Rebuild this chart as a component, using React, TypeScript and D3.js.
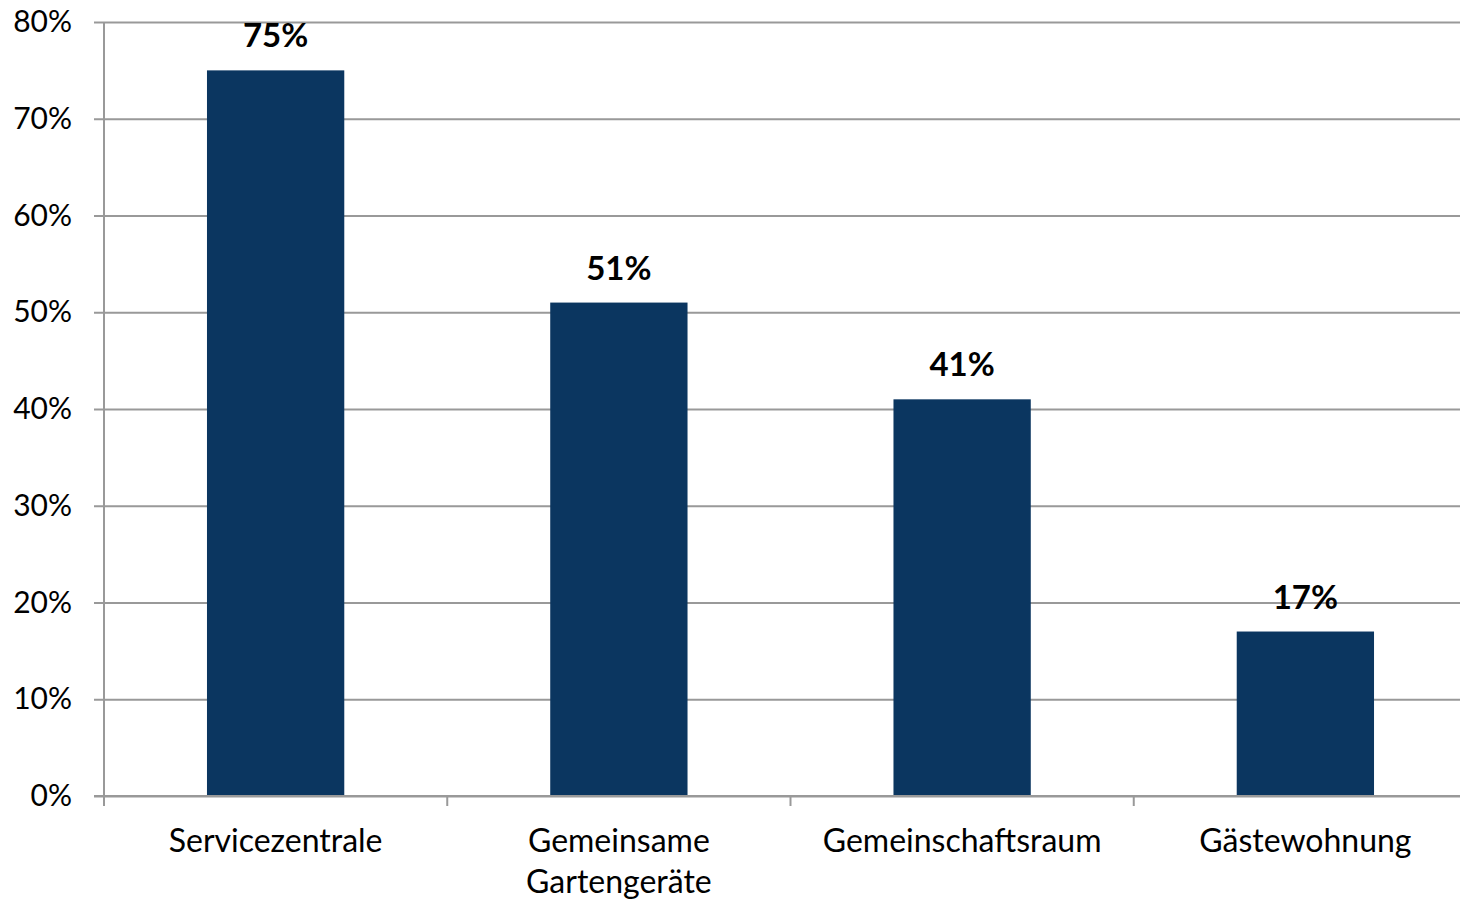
import * as d3 from 'd3';
import React, { useEffect, useRef } from 'react';

const categories = ['Servicezentrale', 'Gemeinsame Gartengeräte', 'Gemeinschaftsraum', 'Gästewohnung'];
const categoryLines = [['Servicezentrale'], ['Gemeinsame', 'Gartengeräte'], ['Gemeinschaftsraum'], ['Gästewohnung']];
const values = [0.75, 0.51, 0.41, 0.17];
const yTicks = [0, 0.1, 0.2, 0.3, 0.4, 0.5, 0.6, 0.7, 0.8];

const FONT = 'Lato, "Open Sans", sans-serif';

const App: React.FC = () => {
  const svgRef = useRef<SVGSVGElement | null>(null);

  useEffect(() => {
    const svg = d3.select(svgRef.current);
    const width = 1460;
    const height = 899;
    const left = 104;
    const top = 22;
    const bottom = 796;
    const step = 343.25;

    svg.attr('width', width).attr('height', height).style('background', '#fff');
    svg.selectAll('*').remove();

    const x = d3
      .scaleBand<string>()
      .domain(categories)
      .range([left, left + step * categories.length])
      .paddingInner(0.6)
      .paddingOuter(0.3);

    const y = d3.scaleLinear().domain([0, 0.8]).range([bottom, top]);

    // gridlines + y ticks
    const yAxis = svg
      .append('g')
      .attr('transform', `translate(${left},0)`)
      .call(
        d3
          .axisLeft(y)
          .tickValues(yTicks)
          .tickFormat((d) => d3.format('.0%')(d as number))
          .tickSize(-(width - left + 30))
          .tickPadding(32),
      );
    yAxis.select('.domain').remove();
    yAxis
      .selectAll('.tick line')
      .attr('x1', -10)
      .attr('stroke', '#999')
      .attr('stroke-width', 2);
    yAxis
      .selectAll('.tick text')
      .attr('fill', '#000')
      .attr('x', -32)
      .style('font-family', FONT)
      .style('font-size', '30px');

    // y axis line
    svg
      .append('line')
      .attr('x1', left)
      .attr('x2', left)
      .attr('y1', top)
      .attr('y2', bottom)
      .attr('stroke', '#999')
      .attr('stroke-width', 2);

    // bars
    svg
      .append('g')
      .selectAll('rect')
      .data(values)
      .join('rect')
      .attr('x', (_, i) => x(categories[i])!)
      .attr('width', x.bandwidth())
      .attr('y', (d) => y(d))
      .attr('height', (d) => bottom - y(d))
      .attr('fill', '#0B3660');

    // x axis baseline and ticks
    svg
      .append('line')
      .attr('x1', left - 10)
      .attr('x2', width)
      .attr('y1', bottom)
      .attr('y2', bottom)
      .attr('stroke', '#999')
      .attr('stroke-width', 2);

    svg
      .append('g')
      .selectAll('line')
      .data(categories)
      .join('line')
      .attr('x1', (d) => x(d)! - x.step() * 0.3)
      .attr('x2', (d) => x(d)! - x.step() * 0.3)
      .attr('y1', bottom)
      .attr('y2', bottom + 10)
      .attr('stroke', '#999')
      .attr('stroke-width', 2);

    // value labels
    svg
      .append('g')
      .selectAll('text')
      .data(values)
      .join('text')
      .attr('x', (_, i) => x(categories[i])! + x.bandwidth() / 2)
      .attr('y', (d) => y(d) - 23)
      .attr('text-anchor', 'middle')
      .style('font-family', FONT)
      .style('font-size', '33px')
      .style('font-weight', 'bold')
      .text((d) => d3.format('.0%')(d));

    // category labels
    const cat = svg
      .append('g')
      .selectAll('text')
      .data(categories)
      .join('text')
      .attr('x', (d) => x(d)! + x.bandwidth() / 2)
      .attr('y', 852)
      .attr('text-anchor', 'middle')
      .style('font-family', FONT)
      .style('font-size', '32px');
    cat
      .selectAll('tspan')
      .data((_, i) => categoryLines[i])
      .join('tspan')
      .attr('x', function () {
        return (this.parentNode as SVGTextElement).getAttribute('x');
      })
      .attr('dy', (_, j) => (j === 0 ? 0 : 41))
      .text((t) => t);
  }, []);

  return (
    <div style={{ position: 'absolute', left: 0, top: 0 }}>
      <svg ref={svgRef} style={{ display: 'block' }}></svg>
    </div>
  );
};

export default App;
